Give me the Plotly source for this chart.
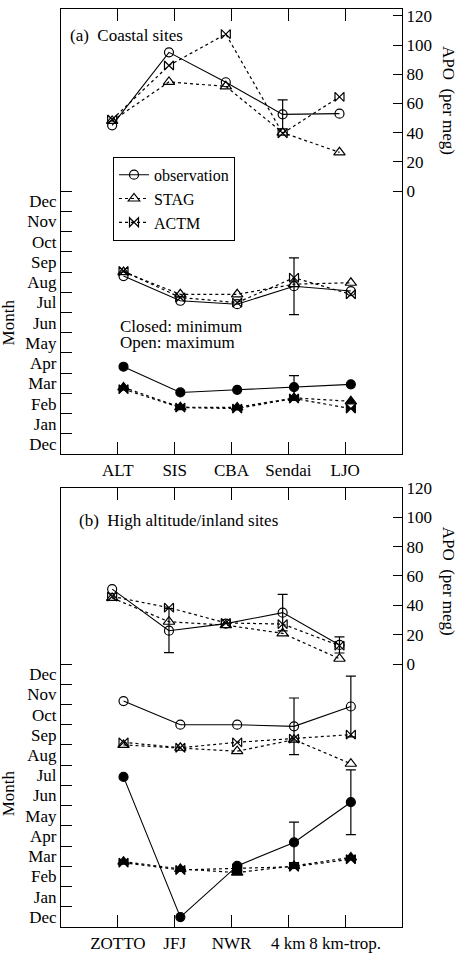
import plotly.graph_objects as go

# site names (x categories)
sites_a = ["ALT", "SIS", "CBA", "Sendai", "LJO"]
sites_b = ["ZOTTO", "JFJ", "NWR", "4 km", "8 km-trop."]
month_labels = ["Dec", "Jan", "Feb", "Mar", "Apr", "May", "Jun",
                "Jul", "Aug", "Sep", "Oct", "Nov", "Dec"]
apo_ticks = [0, 20, 40, 60, 80, 100, 120]

# (a) coastal sites - APO seasonal amplitude (per meg)
apo_obs_a = [45, 95, 74.5, 52.5, 53]
apo_obs_a_err = [0, 0, 0, 10, 0]
apo_stag_a = [48, 74.7, 71.7, 40, 26.5]
apo_actm_a = [49, 86, 107.5, 39.5, 64.5]

# (a) month of maximum (open) and minimum (closed), 0 = start of Dec
max_obs_a = [8.80, 7.58, 7.41, 8.30, 8.06]
max_obs_a_err = [0, 0, 0, 1.40, 0]
max_stag_a = [9.0, 7.90, 7.90, 8.40, 8.47]
max_actm_a = [9.05, 7.74, 7.49, 8.72, 7.90]

min_obs_a = [4.32, 3.05, 3.18, 3.31, 3.45]
min_obs_a_err = [0, 0, 0, 0.57, 0]
min_stag_a = [3.30, 2.32, 2.31, 2.78, 2.61]
min_actm_a = [3.21, 2.30, 2.25, 2.75, 2.25]

# (b) high altitude / inland sites
apo_obs_b = [51, 22.7, 27.5, 35, 13]
apo_obs_b_err = [0, 15, 0, 12.4, 5.5]
apo_stag_b = [45, 28.8, 26.5, 20.9, 3.6]
apo_actm_b = [46, 38.4, 28, 27.2, 12.5]

max_obs_b = [11.17, 10.0, 10.0, 9.92, 10.9]
max_obs_b_err = [0, 0, 0, 1.4, 1.5]
max_stag_b = [9.0, 8.86, 8.69, 9.26, 8.07]
max_actm_b = [9.13, 8.86, 9.13, 9.31, 9.51]

min_obs_b = [7.42, 0.49, 3.02, 4.18, 6.17]
min_obs_b_err = [0, 0, 0, 1.0, 1.6]
min_stag_b = [3.23, 2.87, 2.69, 3.02, 3.44]
min_actm_b = [3.18, 2.82, 2.9, 2.98, 3.35]

FONT = "Liberation Serif"
FS = 17

fig = go.Figure()

pos = [1, 2, 3, 4, 5]
x_apo = [p - 0.1 for p in pos]
x_mon = [p + 0.1 for p in pos]


def add_err(x, y, err, xa, ya):
    # error bars only where a value was given
    xs = [x[i] for i in range(len(err)) if err[i]]
    ys = [y[i] for i in range(len(err)) if err[i]]
    es = [e for e in err if e]
    fig.add_trace(go.Scatter(
        x=xs, y=ys, mode="markers", xaxis=xa, yaxis=ya,
        marker=dict(size=2, color="rgba(0,0,0,0)"),
        error_y=dict(type="data", array=es, symmetric=True,
                     color="black", thickness=1.2, width=5),
        showlegend=False, hoverinfo="skip"))


def add_series(x, y, xa, ya, symbol, dash, name=None, size=9):
    fig.add_trace(go.Scatter(
        x=x, y=y, mode="lines+markers", xaxis=xa, yaxis=ya,
        line=dict(color="black", width=1.1 if dash == "solid" else 1.2, dash=dash),
        marker=dict(symbol=symbol, size=size, color="black",
                    line=dict(color="black", width=1.2)),
        name=name, showlegend=name is not None))


panels = [
    ("x", "y", "y2",
     (apo_obs_a, apo_obs_a_err, apo_stag_a, apo_actm_a),
     (max_obs_a, max_obs_a_err, max_stag_a, max_actm_a),
     (min_obs_a, min_obs_a_err, min_stag_a, min_actm_a), True),
    ("x2", "y3", "y4",
     (apo_obs_b, apo_obs_b_err, apo_stag_b, apo_actm_b),
     (max_obs_b, max_obs_b_err, max_stag_b, max_actm_b),
     (min_obs_b, min_obs_b_err, min_stag_b, min_actm_b), False),
]

for xa, ym, ya, apo, mx, mn, legend in panels:
    add_err(x_apo, apo[0], apo[1], xa, ya)
    add_err(x_mon, mx[0], mx[1], xa, ym)
    add_err(x_mon, mn[0], mn[1], xa, ym)

    add_series(x_apo, apo[0], xa, ya, "circle-open", "solid",
               "observation" if legend else None)
    add_series(x_apo, apo[2], xa, ya, "triangle-up-open", "dot",
               "STAG" if legend else None, size=10)
    add_series(x_apo, apo[3], xa, ya, "bowtie-open", "dot",
               "ACTM" if legend else None)

    add_series(x_mon, mx[0], xa, ym, "circle-open", "solid")
    add_series(x_mon, mx[2], xa, ym, "triangle-up-open", "dot", size=10)
    add_series(x_mon, mx[3], xa, ym, "bowtie-open", "dot")

    add_series(x_mon, mn[0], xa, ym, "circle", "solid")
    add_series(x_mon, mn[2], xa, ym, "triangle-up", "dot", size=10)
    add_series(x_mon, mn[3], xa, ym, "bowtie", "dot")

tickfont = dict(family=FONT, size=FS, color="black")
line_kw = dict(showline=True, linecolor="black", linewidth=1.2,
               showgrid=False, zeroline=False)

xkw = dict(range=[0, 6], tickmode="array", tickvals=pos, ticks="inside",
           ticklen=12, tickwidth=1.2, tickcolor="black", mirror="ticks",
           tickfont=tickfont, **line_kw)

month_kw = dict(tickmode="array",
                tickvals=[i + 0.5 for i in range(len(month_labels))],
                ticktext=month_labels, ticks="", tickfont=tickfont,
                minor=dict(tickmode="array",
                           tickvals=list(range(1, len(month_labels) + 1)),
                           ticks="inside", ticklen=11, tickwidth=1.2,
                           tickcolor="black", showgrid=False),
                **line_kw)

apo_kw = dict(tickmode="array", tickvals=apo_ticks, ticks="inside",
              ticklen=9, tickwidth=1.2, tickcolor="black", side="right",
              tickfont=tickfont, **line_kw)

fig.update_layout(
    width=457, height=953,
    margin=dict(l=61, r=55, t=0, b=25),
    paper_bgcolor="white", plot_bgcolor="white",
    font=dict(family=FONT, size=FS, color="black"),
    xaxis=dict(domain=[0, 1], anchor="y", ticktext=sites_a, **xkw),
    yaxis=dict(domain=[0.5151, 1], anchor="x", range=[0, 22.0], **month_kw),
    yaxis2=dict(overlaying="y", anchor="x", range=[-180.3, 124.7], **apo_kw),
    xaxis2=dict(domain=[0, 1], anchor="y3", ticktext=sites_b, **xkw),
    yaxis3=dict(domain=[0, 0.4784], anchor="x2", range=[0, 21.71], **month_kw),
    yaxis4=dict(overlaying="y3", anchor="x2", range=[-179.1, 120], **apo_kw),
    legend=dict(x=0.1525, y=0.839, xanchor="left", yanchor="top",
                bgcolor="white", bordercolor="black", borderwidth=1,
                font=dict(family=FONT, size=16, color="black"),
                itemwidth=30, tracegroupgap=0),
    showlegend=True,
)

ann = dict(showarrow=False, font=dict(family=FONT, size=FS, color="black"))
fig.add_annotation(text="(a)\u00a0 Coastal sites", xref="paper", yref="paper",
                   x=0.0205, y=0.971, xanchor="left", yanchor="middle", **ann)
fig.add_annotation(text="(b)\u00a0 High altitude/inland sites", xref="paper",
                   yref="paper", x=0.047, y=0.4429, xanchor="left",
                   yanchor="middle", **ann)
fig.add_annotation(text="Closed: minimum", xref="paper", yref="paper",
                   x=0.167, y=0.6545, xanchor="left", yanchor="middle", **ann)
fig.add_annotation(text="Open: maximum", xref="paper", yref="paper",
                   x=0.167, y=0.6362, xanchor="left", yanchor="middle", **ann)
for yy in (0.9009, 0.3772):
    fig.add_annotation(text="APO\u00a0 (per meg)", xref="paper", yref="paper",
                       x=1.135, y=yy, textangle=90, xanchor="center",
                       yanchor="middle", **ann)
for yy in (0.6584, 0.1455):
    fig.add_annotation(text="Month", xref="paper", yref="paper",
                       x=-0.153, y=yy, textangle=-90, xanchor="center",
                       yanchor="middle", **ann)

# the page has a default body margin; drop it so the figure fills the window
fig.write_html("out.html", config={"displayModeBar": False},
               post_script="document.body.style.margin='0';"
                           "document.body.style.overflow='hidden';")
